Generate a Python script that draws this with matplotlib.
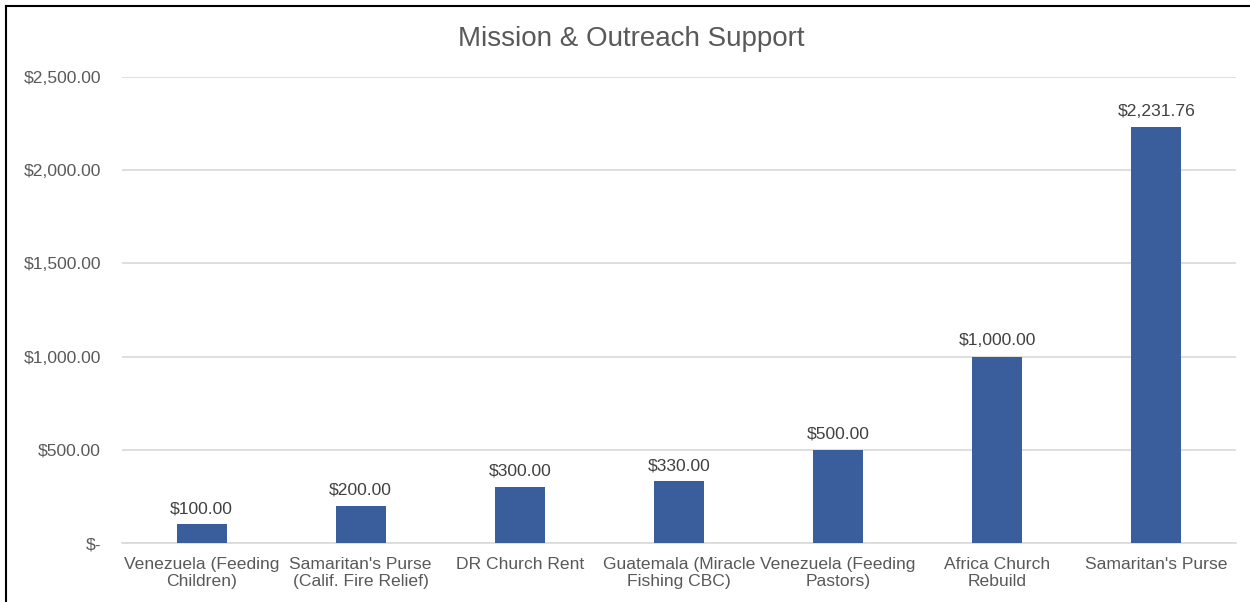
import numpy as np
import matplotlib
matplotlib.use('Agg')
import matplotlib.pyplot as plt
from matplotlib.lines import Line2D

plt.rcParams['font.family'] = ['Liberation Sans', 'DejaVu Sans']

# donnees
categories = ['Venezuela (Feeding\nChildren)', "Samaritan's Purse\n(Calif. Fire Relief)",
              'DR Church Rent', 'Guatemala (Miracle\nFishing CBC)',
              'Venezuela (Feeding\nPastors)', 'Africa Church\nRebuild', "Samaritan's Purse"]
amounts = [100.00, 200.00, 300.00, 330.00, 500.00, 1000.00, 2231.76]
yticks = [0, 500, 1000, 1500, 2000, 2500]
ytick_labels = ['$-', '$500.00', '$1,000.00', '$1,500.00', '$2,000.00', '$2,500.00']

bar_color = '#3A5D9C'
text_color = '#595959'

fig = plt.figure(figsize=(12.5, 6.02), dpi=100)
ax = fig.add_axes([0.0976, 0.098, 0.8912, 0.774])

x = np.arange(len(categories))
bars = ax.bar(x, amounts, width=0.315, color=bar_color, zorder=3)

for b, v in zip(bars, amounts):
    ax.annotate('${:,.2f}'.format(v), (b.get_x() + b.get_width() / 2, v),
                xytext=(0, 6), textcoords='offset points', ha='center', va='bottom',
                fontsize=12.6, color='#404040')

ax.set_xlim(-0.5, len(categories) - 0.5)
ax.set_ylim(0, 2500)
ax.set_yticks(yticks)
ax.set_yticklabels(ytick_labels)
ax.set_xticks(x)
ax.set_xticklabels(categories, linespacing=1.2)
ax.tick_params(axis='both', length=0, labelsize=12.6, labelcolor=text_color)
ax.tick_params(axis='y', pad=15)
ax.tick_params(axis='x', pad=10)

ax.grid(True, axis='y', color='#D9D9D9', linewidth=1.2, zorder=0)
for s in ['top', 'right', 'left']:
    ax.spines[s].set_visible(False)
ax.spines['bottom'].set_color('#D9D9D9')
ax.spines['bottom'].set_linewidth(1.2)

fig.text(0.505, 0.935, 'Mission & Outreach Support', ha='center', va='center',
         fontsize=20, color=text_color)

# cadre (gauche et haut seulement, image rognee)
fig.add_artist(Line2D([6 / 1250, 6 / 1250], [0, 1 - 6 / 602], color='black', linewidth=1.5))
fig.add_artist(Line2D([6 / 1250, 1], [1 - 6 / 602, 1 - 6 / 602], color='black', linewidth=1.5))

fig.savefig('out.png', dpi=100)
print('OK')
